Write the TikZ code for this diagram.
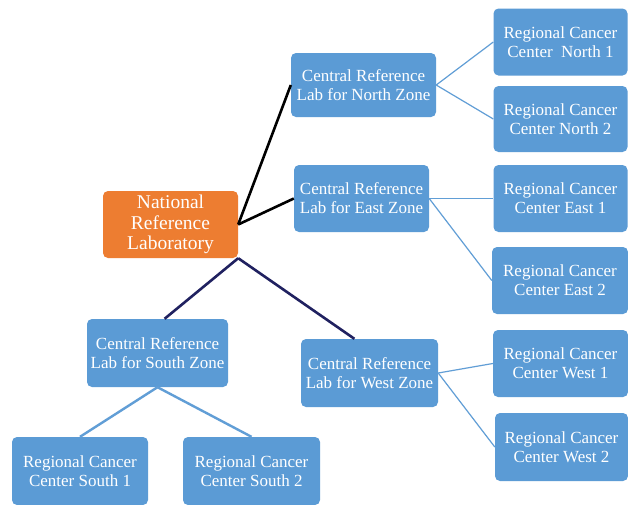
\documentclass[tikz,border=0pt]{standalone}
\usepackage{fontspec}
\setmainfont{Liberation Serif}
\usetikzlibrary{calc}
\definecolor{labblue}{RGB}{91, 155, 213}
\definecolor{linkblue}{RGB}{97, 158, 214}
\definecolor{hubpeach}{RGB}{237, 125, 49}
\definecolor{treenavy}{RGB}{32, 33, 96}

\begin{document}
\begin{tikzpicture}[
  x=1pt, y=-1pt,
  every node/.style={text=white, align=center, inner sep=2pt},
  hub/.style={
    fill=hubpeach, rounded corners=5pt,
    minimum width=135pt, minimum height=67pt,
    font=\fontsize{19.5}{20.5}\selectfont
  },
  lab/.style={
    fill=labblue, rounded corners=5pt,
    minimum width=137pt, minimum height=67pt,
    font=\fontsize{17}{19}\selectfont
  },
  rcc/.style={lab, minimum width=134pt},
  topline/.style={line width=2.6pt, color=black},
  navyline/.style={line width=2.6pt, color=treenavy},
  twig/.style={line width=1.2pt, color=linkblue},
  thick twig/.style={line width=2.4pt, color=linkblue}
]
  \useasboundingbox (0,0) rectangle (628,504);
  \fill[white] (0,0) rectangle (628,504);

  % Laboratorio nazionale
  \node[hub] (nrl) at (170.5,224.5) {National\\Reference\\Laboratory};

  % Laboratori di zona
  \node[lab, minimum width=145pt, minimum height=64pt] (north) at (363.5,85) {Central Reference\\Lab for North Zone};
  \node[lab, minimum width=135pt] (east) at (361.5,198.5) {Central Reference\\Lab for East Zone};
  \node[lab, minimum width=141pt, minimum height=68pt] (south) at (157.5,353) {Central Reference\\Lab for South Zone};
  \node[lab, minimum height=68pt] (west) at (369.5,373) {Central Reference\\Lab for West Zone};

  % Centri regionali (colonna destra)
  \node[rcc] (rccN1) at (560.5,42) {Regional Cancer\\Center\ \ North 1};
  \node[rcc, minimum height=66pt] (rccN2) at (560.5,119) {Regional Cancer\\Center North 2};
  \node[rcc] (rccE1) at (560.5,198.5) {Regional Cancer\\Center East 1};
  \node[rcc, minimum width=136pt] (rccE2) at (560,280.5) {Regional Cancer\\Center East 2};
  \node[rcc, minimum width=135pt] (rccW1) at (560.5,363.5) {Regional Cancer\\Center West 1};
  \node[rcc, minimum width=133pt, minimum height=68pt] (rccW2) at (561.5,447) {Regional Cancer\\Center West 2};

  % Centri regionali sud (in basso)
  \node[rcc, minimum width=136pt, minimum height=68pt] (rccS1) at (80,471) {Regional Cancer\\Center South 1};
  \node[rcc, minimum width=137pt, minimum height=68pt] (rccS2) at (251.5,471) {Regional Cancer\\Center South 2};

  % Collegamenti dal laboratorio nazionale
  \draw[topline] (nrl.east) -- (north.west);
  \draw[topline] (nrl.east) -- (east.west);
  \draw[navyline] (nrl.south east) -- ($(south.north west)!0.55!(south.north east)$);
  \draw[navyline] (nrl.south east) -- ($(west.north west)!0.39!(west.north east)$);

  % Collegamenti verso i centri regionali
  \draw[twig] (north.east) -- (rccN1.west);
  \draw[twig] (north.east) -- (rccN2.west);
  \draw[twig] (east.east) -- (rccE1.west);
  \draw[twig] (east.east) -- (rccE2.west);
  \draw[twig] (west.east) -- (rccW1.west);
  \draw[twig] (west.east) -- (rccW2.west);
  \draw[thick twig] (south.south) -- (rccS1.north);
  \draw[thick twig] (south.south) -- (rccS2.north);

\end{tikzpicture}
\end{document}
